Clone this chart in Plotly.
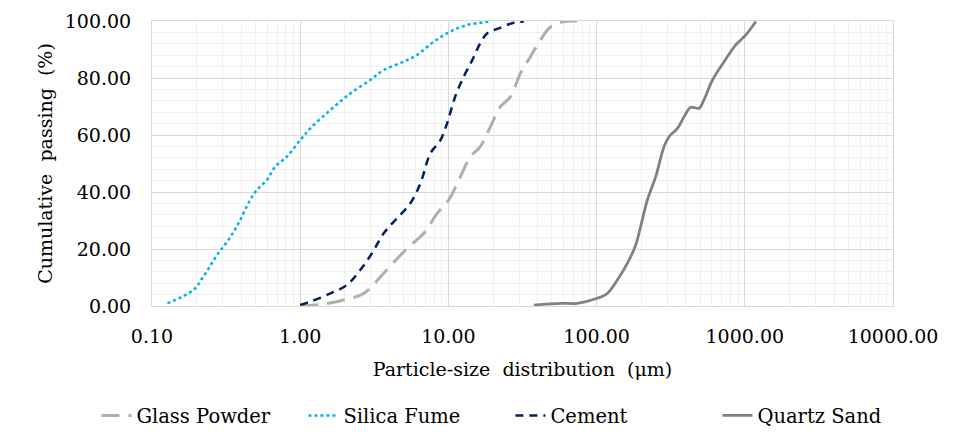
import plotly.graph_objects as go

# particle size (um) vs cumulative passing (%)
glass_size = [1.0, 1.44, 1.96, 2.68, 3.66, 5.26, 6.82, 8.4, 10.05, 12.05, 14.1, 16.4,
              19.2, 22.4, 26.2, 30.6, 35.8, 41.8, 48.8, 60.0, 74.2]
glass_pass = [0.0, 0.7, 2.1, 4.4, 11.5, 20.2, 25.5, 32.5, 37.2, 45.4, 52.4, 55.9,
              62.9, 69.9, 73.4, 81.6, 87.5, 93.3, 97.9, 99.8, 100.0]

silica_size = [0.127, 0.19, 0.222, 0.28, 0.328, 0.383, 0.459, 0.51, 0.596, 0.678, 0.813,
               1.0, 1.17, 1.6, 2.18, 2.97, 3.66, 4.99, 6.14, 7.96, 10.3, 13.4, 19.2]
silica_pass = [0.95, 5.6, 10.3, 18.5, 23.2, 29.0, 37.2, 40.7, 44.2, 48.9, 52.4,
               58.2, 62.3, 68.8, 74.6, 79.3, 82.8, 85.7, 88.1, 92.7, 96.3, 98.6, 99.8]

cement_size = [1.0, 1.17, 1.6, 2.07, 2.54, 3.05, 3.66, 4.5, 5.53, 6.47, 7.56, 8.84, 9.8,
               11.1, 12.7, 14.5, 16.4, 18.3, 21.9, 27.6, 32.3]
cement_pass = [0.35, 1.5, 4.4, 7.4, 12.6, 18.5, 25.5, 30.8, 36.0, 43.0, 53.6, 58.2, 64.1,
               73.4, 80.5, 86.3, 92.2, 95.7, 97.4, 99.4, 99.8]

sand_size = [37.7, 57.1, 74.1, 101, 118, 138, 165.5, 183.6, 198, 220, 250.6, 285, 308,
             351, 389, 432, 491, 531, 605, 725, 869, 1016, 1187]
sand_pass = [0.35, 0.95, 0.95, 2.7, 4.4, 9.1, 16.1, 21.4, 27.8, 37.2, 45.4, 55.9, 59.4,
             62.3, 66.4, 69.7, 69.4, 72.4, 79.3, 85.7, 91.6, 95.1, 99.8]

x_ticks = [0.1, 1, 10, 100, 1000, 10000]

# only DejaVu Serif resolves as a serif face in the sandbox browser
FONT = "DejaVu Serif"

fig = go.Figure()
fig.add_trace(go.Scatter(x=glass_size, y=glass_pass, mode="lines", name="Glass Powder",
                         line=dict(color="#AFAFAF", width=3, dash="18px,9px", shape="spline")))
fig.add_trace(go.Scatter(x=silica_size, y=silica_pass, mode="lines", name="Silica Fume",
                         line=dict(color="#00B0F0", width=2.5, dash="dot", shape="spline")))
fig.add_trace(go.Scatter(x=cement_size, y=cement_pass, mode="lines", name="Cement",
                         line=dict(color="#002060", width=2.5, dash="8px,6px", shape="spline")))
fig.add_trace(go.Scatter(x=sand_size, y=sand_pass, mode="lines", name="Quartz Sand",
                         line=dict(color="#808080", width=2.75, shape="spline")))

# page body has an 8px margin, so the figure is drawn 8px smaller
fig.update_layout(
    width=956, height=439,
    margin=dict(l=144, r=71, t=13, b=141),
    paper_bgcolor="white", plot_bgcolor="white",
    font=dict(family=FONT, size=19, color="black"),
    showlegend=True,
    legend=dict(orientation="h", x=-0.075, xanchor="left",
                y=-0.385, yanchor="middle",
                font=dict(size=19.5), entrywidth=162, tracegroupgap=0),
)
fig.update_xaxes(
    type="log", range=[-1, 4], tickvals=x_ticks, tickformat=".2f",
    showgrid=True, gridcolor="#D9D9D9", gridwidth=1,
    minor=dict(showgrid=True, gridcolor="#F0F0F0", dtick="D1", ticks=""),
    showline=True, linecolor="#D9D9D9", mirror=True, ticks="",
    ticklabelstandoff=13, automargin=False,
    title=dict(text="Particle-size  distribution  (μm)", font=dict(size=19), standoff=16),
    zeroline=False,
)
fig.update_yaxes(
    range=[0, 100], dtick=20, tickformat=".2f",
    showgrid=True, gridcolor="#D9D9D9", gridwidth=1,
    minor=dict(showgrid=True, gridcolor="#F0F0F0", dtick=4, ticks=""),
    showline=True, linecolor="#D9D9D9", mirror=True, ticks="",
    ticklabelstandoff=16, automargin=False,
    title=dict(text="Cumulative  passing  (%)", font=dict(size=19), standoff=7),
    zeroline=False,
)

fig.write_html("out.html")
